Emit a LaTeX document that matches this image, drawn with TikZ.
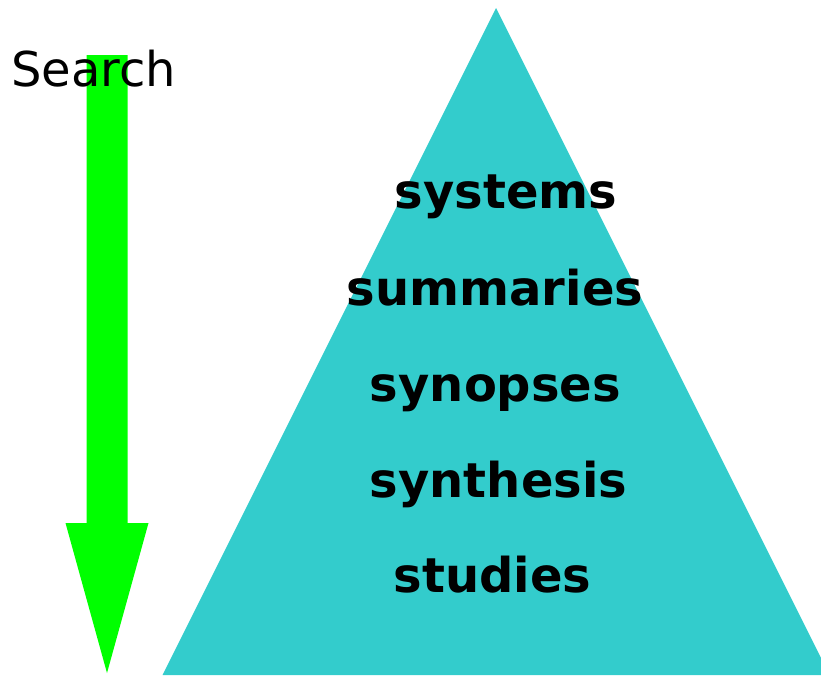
\documentclass[tikz,border=0pt]{standalone}
\usepackage{fontspec}
\setmainfont{DejaVu Sans}
\usepackage{tikz}
\definecolor{pyramidcol}{HTML}{33CCCC}
\definecolor{arrowcol}{HTML}{00FF00}
\tikzset{
  levellabel/.style={anchor=base, inner sep=0pt, font=\fontsize{48}{56}\selectfont\bfseries},
  searchlabel/.style={anchor=base, inner sep=0pt, font=\fontsize{48}{56}\selectfont}
}

\begin{document}
\begin{tikzpicture}[x=1pt, y=-1pt]
			%%%%% START %%%%%
			\useasboundingbox (0, 0) rectangle (821, 675);
			
			\fill[pyramidcol] (496, 8) -- (829.5, 675) -- (162.5, 675) -- cycle;
			
			\fill[arrowcol] (86.5, 55) -- (127.5, 55) -- (127.5, 523) -- (148.5, 523)
			      -- (107, 673) -- (65.5, 523) -- (86.5, 523) -- cycle;
			
			\node[searchlabel] (search) at (93.5, 86) {Search};
			
			\node[levellabel] (systems) at (506, 208) {systems};
			\node[levellabel] (summaries) at (495, 305) {summaries};
			\node[levellabel] (synopses) at (495.5, 401) {synopses};
			\node[levellabel] (synthesis) at (498.5, 497) {synthesis};
			\node[levellabel] (studies) at (492.5, 592) {studies};
			
			%%%%% END %%%%%
		\end{tikzpicture}
\end{document}
